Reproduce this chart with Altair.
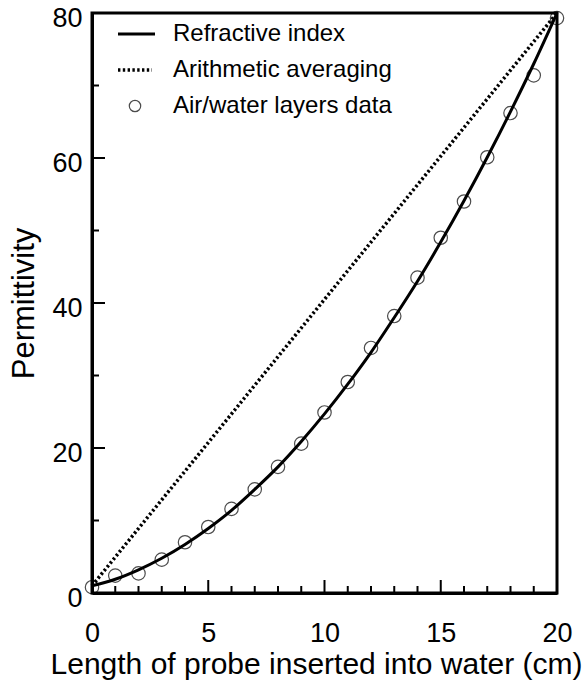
import altair as alt
import pandas as pd

# ---- data ----
length_cm = list(range(0, 21))
refractive_index_curve = [1.0, 1.9, 3.2, 4.8, 6.7, 8.9, 11.4, 14.3, 17.4, 20.9, 24.7,
                          28.8, 33.2, 38.0, 43.0, 48.4, 54.1, 60.1, 66.4, 73.0, 80.0]
arith_x = [0, 20]
arith_y = [1.0, 80.0]
layers_data = [0.8, 2.4, 2.7, 4.6, 7.0, 9.1, 11.6, 14.3, 17.4, 20.6, 24.9,
               29.1, 33.8, 38.2, 43.5, 49.0, 54.0, 60.1, 66.2, 71.4, 79.3]

x_ticks_major = [0, 5, 10, 15, 20]
x_ticks_minor = [v for v in range(21) if v % 5 != 0]
y_ticks_major = [0, 20, 40, 60, 80]
y_ticks_minor = [10, 30, 50, 70]

legend_labels = ["Refractive index", "Arithmetic averaging", "Air/water layers data"]

FONT = "Liberation Sans"
W, H = 465, 580

curve_df = pd.DataFrame({"x": length_cm, "y": refractive_index_curve})
arith_df = pd.DataFrame({"x": arith_x, "y": arith_y})
pts_df = pd.DataFrame({"x": length_cm, "y": layers_data})

xscale = alt.Scale(domain=[0, 20], nice=False, zero=False)
yscale = alt.Scale(domain=[0, 80], nice=False, zero=False)

xaxis = alt.Axis(title="Length of probe inserted into water (cm)", values=x_ticks_major,
                 ticks=False, tickSize=0, grid=False, domain=True, domainWidth=3,
                 domainColor="black", labelFont=FONT, labelFontSize=27, labelColor="black",
                 labelFlush=False, labelPadding=27, titleFont=FONT, titleFontSize=30,
                 titleFontWeight="normal", titleColor="black", titlePadding=3,
                 titleAlign="right", titleX=490)
yaxis = alt.Axis(title="Permittivity", values=y_ticks_major, ticks=False, tickSize=0,
                 grid=False, domain=True, domainWidth=3, domainColor="black",
                 labelFont=FONT, labelFontSize=27, labelColor="black", labelPadding=10,
                 labelOffset=5, labelFlush=False, titleFont=FONT, titleFontSize=31,
                 titleFontWeight="normal", titleColor="black", titlePadding=11)


def X(field):
    return alt.X(field, scale=xscale, axis=xaxis)


def Y(field):
    return alt.Y(field, scale=yscale, axis=yaxis)


curve = alt.Chart(curve_df).mark_line(color="black", strokeWidth=3, interpolate="monotone").encode(
    x=X("x:Q"), y=Y("y:Q"))
arith = alt.Chart(arith_df).mark_line(color="black", strokeWidth=3.5, strokeDash=[2.4, 2.4]).encode(
    x=X("x:Q"), y=Y("y:Q"))
pts = alt.Chart(pts_df).mark_point(shape="circle", filled=False, color="black", size=180,
                                   strokeWidth=1.2, clip=False).encode(x=X("x:Q"), y=Y("y:Q"))


# inward ticks
def xticks(vals, length):
    return alt.Chart(pd.DataFrame({"x": vals})).mark_rule(color="black", strokeWidth=2).encode(
        x=X("x:Q"), y=alt.value(H), y2=alt.value(H - length))


def yticks(vals, length):
    return alt.Chart(pd.DataFrame({"y": vals})).mark_rule(color="black", strokeWidth=2).encode(
        y=Y("y:Q"), x=alt.value(0), x2=alt.value(length))


tick_layers = [xticks(x_ticks_major, 13), xticks(x_ticks_minor, 7),
               yticks(y_ticks_major, 13), yticks(y_ticks_minor, 7)]

# legend (drawn manually)
leg_rows_y = [21, 57, 93]
leg_layers = []
for label, yy in zip(legend_labels, leg_rows_y):
    leg_layers.append(
        alt.Chart(pd.DataFrame({"label": [label]})).mark_text(
            align="left", baseline="middle", font=FONT, fontSize=24, color="black").encode(
            x=alt.value(81), y=alt.value(yy), text="label:N"))
leg_layers.append(alt.Chart(pd.DataFrame({"row": [0]})).mark_rule(color="black", strokeWidth=3).encode(
    x=alt.value(26), x2=alt.value(63), y=alt.value(leg_rows_y[0])))
leg_layers.append(alt.Chart(pd.DataFrame({"row": [1]})).mark_rule(
    color="black", strokeWidth=3.5, strokeDash=[2.4, 2.4]).encode(
    x=alt.value(26), x2=alt.value(60), y=alt.value(leg_rows_y[1])))
leg_layers.append(alt.Chart(pd.DataFrame({"row": [2]})).mark_point(
    shape="circle", filled=False, color="black", size=130, strokeWidth=1.2).encode(
    x=alt.value(43), y=alt.value(leg_rows_y[2])))

chart = alt.layer(curve, arith, pts, *tick_layers, *leg_layers).properties(
    width=W, height=H,
    autosize=alt.AutoSizeParams(type="none"),
    padding={"left": 92, "top": 13, "right": 27, "bottom": 90},
    background="white",
).configure_view(stroke="black", strokeWidth=3)

chart.save("out.html", embed_options={"renderer": "svg", "actions": False})
